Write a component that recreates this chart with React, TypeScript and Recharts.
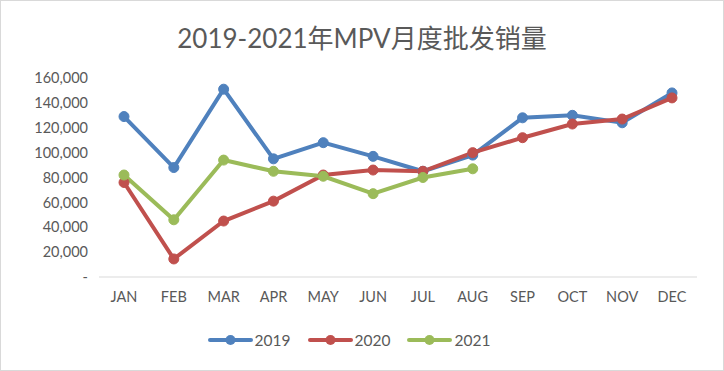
// App.tsx
// MPV monthly wholesale volume 2019-2021, line chart (Recharts)

import { LineChart, Line, XAxis, YAxis, Legend } from 'recharts'

const months = ['JAN', 'FEB', 'MAR', 'APR', 'MAY', 'JUN', 'JUL', 'AUG', 'SEP', 'OCT', 'NOV', 'DEC']
const sales2019 = [129000, 88000, 151000, 95000, 108000, 97000, 85000, 98000, 128000, 130000, 124000, 148000]
const sales2020 = [76000, 14500, 45000, 61000, 82000, 86000, 85000, 100000, 112000, 123000, 127000, 144000]
const sales2021 = [82000, 46000, 94000, 85000, 81000, 67000, 80000, 87000]
const yTicks = [0, 20000, 40000, 60000, 80000, 100000, 120000, 140000, 160000]

const series = [
  { key: '2019', color: '#4F81BD' },
  { key: '2020', color: '#C0504D' },
  { key: '2021', color: '#9BBB59' },
]

const data = months.map((m, i) => ({
  month: m,
  '2019': sales2019[i],
  '2020': sales2020[i],
  '2021': sales2021[i],
}))

const FONT = 'Lato, "Noto Sans CJK SC", sans-serif'
const TEXT = '#595959'

const fmt = (v: number) => (v === 0 ? '-' : v.toLocaleString('en-US'))

function LegendRow() {
  return (
    <div style={{ display: 'flex', justifyContent: 'center', height: 24, alignItems: 'center', fontFamily: FONT, fontSize: 15.5, color: TEXT }}>
      {series.map((s, i) => (
        <div key={s.key} style={{ display: 'flex', alignItems: 'center', marginLeft: i ? 17 : 0 }}>
          <svg width={45} height={12}>
            <line x1={2} y1={6} x2={43} y2={6} stroke={s.color} strokeWidth={4} strokeLinecap="round" />
            <circle cx={22.5} cy={6} r={5} fill={s.color} />
          </svg>
          <span style={{ marginLeft: 2 }}>{s.key}</span>
        </div>
      ))}
    </div>
  )
}

export default function App() {
  return (
    <div style={{ position: 'relative', width: 722, height: 369, border: '1px solid #D9D9D9', background: '#fff' }}>
      <style>{'body{margin:0}'}</style>
      <div style={{ position: 'absolute', top: 19, left: 0, width: 722, textAlign: 'center', fontFamily: FONT, fontSize: 26, color: TEXT, lineHeight: '36px' }}>
        2019-2021年MPV月度批发销量
      </div>
      <LineChart width={722} height={369} data={data} margin={{ top: 77, right: 26, left: 0, bottom: 18 }}>
        <XAxis
          dataKey="month"
          height={51}
          tickLine={false}
          axisLine={{ stroke: '#D9D9D9' }}
          tickSize={0}
          tickMargin={15}
          padding={{ left: 25, right: 25 }}
          tick={{ fontSize: 14.5, fill: TEXT, fontFamily: FONT }}
          interval={0}
        />
        <YAxis
          width={98}
          domain={[0, 160000]}
          ticks={yTicks}
          tickFormatter={fmt}
          axisLine={false}
          tickLine={false}
          tickSize={0}
          tickMargin={11}
          tick={{ fontSize: 14.5, fill: TEXT, fontFamily: FONT }}
        />
        <Legend verticalAlign="bottom" content={() => <LegendRow />} />
        {series.map(s => (
          <Line
            key={s.key}
            dataKey={s.key}
            stroke={s.color}
            strokeWidth={4}
            dot={{ r: 5, fill: s.color, stroke: s.color, strokeWidth: 1 }}
            activeDot={false}
            isAnimationActive={false}
          />
        ))}
      </LineChart>
    </div>
  )
}
